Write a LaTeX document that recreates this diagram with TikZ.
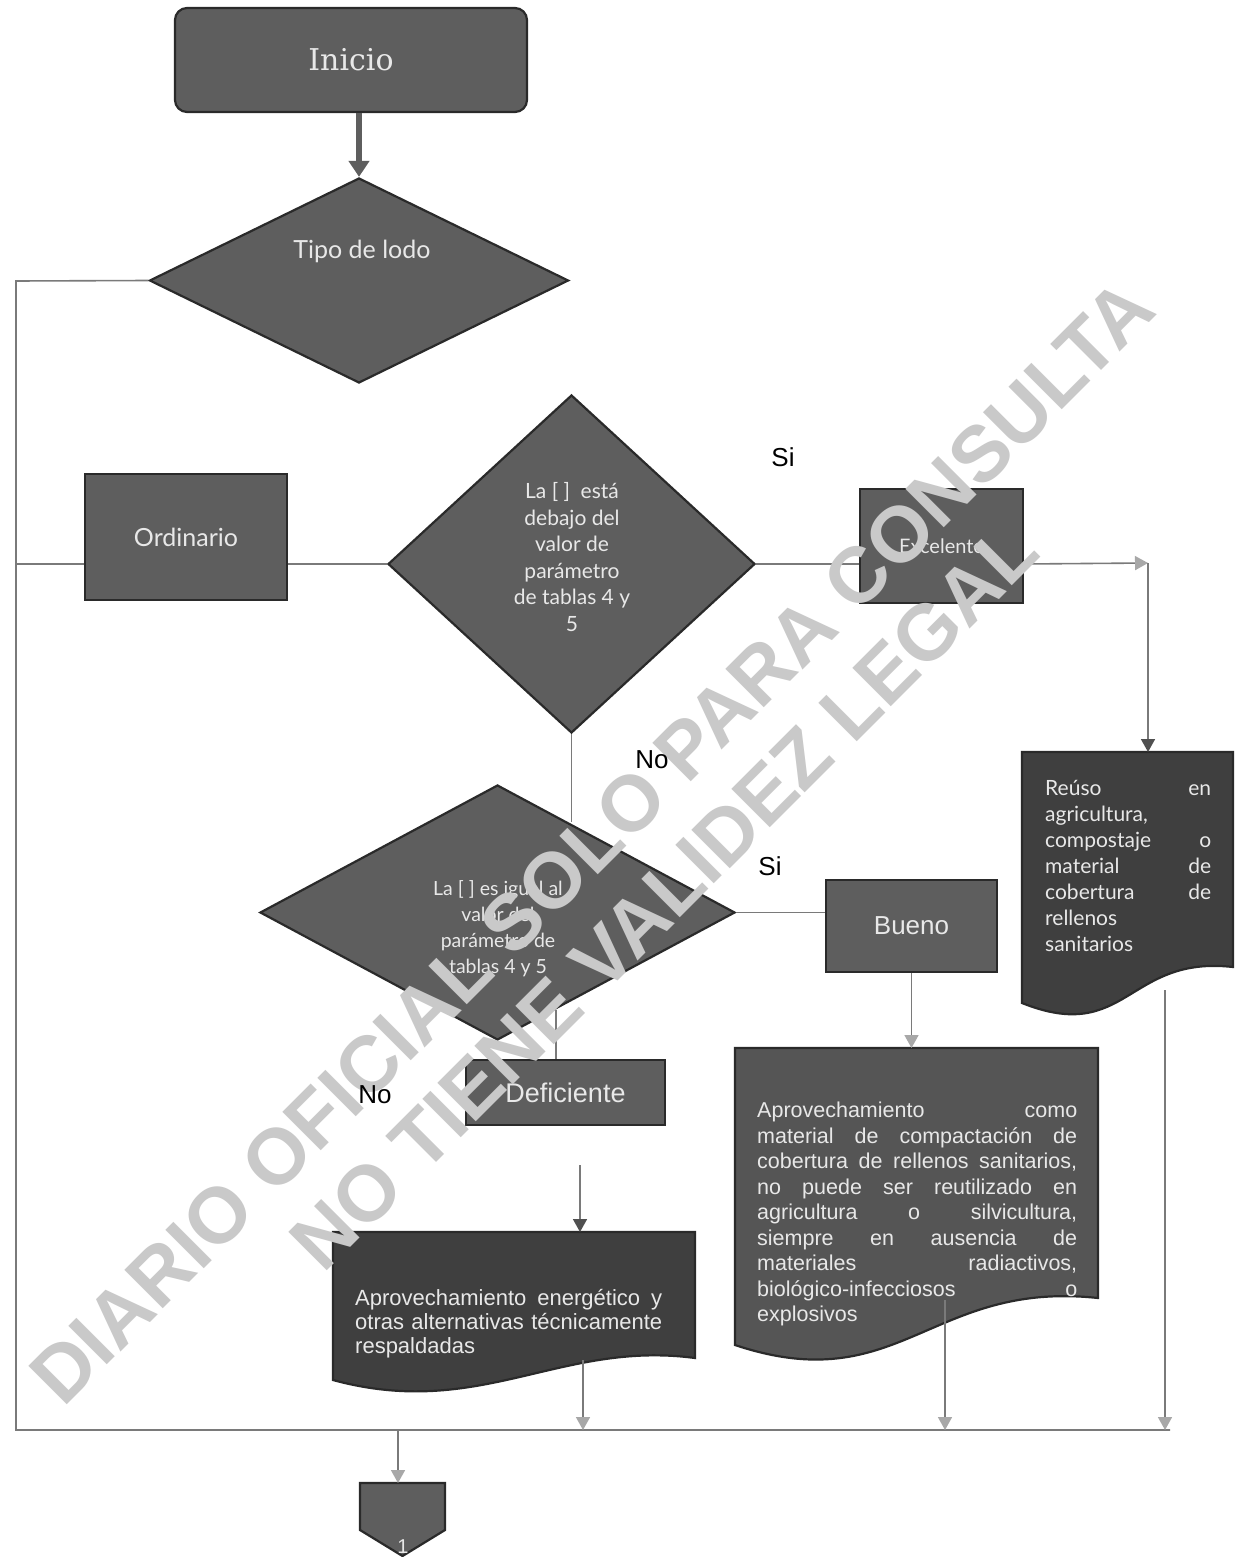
\documentclass[tikz,border=0pt]{standalone}
\usepackage{fontspec}
\setmainfont{Liberation Sans}
\newfontfamily\ral{Lato}
\newfontfamily\slab{DejaVu Serif}
\usetikzlibrary{shapes.geometric,arrows.meta,calc}
\definecolor{shp}{HTML}{5E5E5E}
\definecolor{shpdark}{HTML}{3F3F3F}
\definecolor{shpmid}{HTML}{555555}
\definecolor{edge}{HTML}{2A2A2A}
\definecolor{conn}{HTML}{7A7A7A}
\definecolor{tipl}{HTML}{A8A8A8}
\definecolor{tipd}{HTML}{505050}
\definecolor{txt}{HTML}{E8E8E8}
\definecolor{wm}{HTML}{C9C9C9}
\newcommand\jline[2]{\makebox[#1][s]{#2}}
\begin{document}
\begin{tikzpicture}[x=1pt,y=-1pt,
  box/.style={draw=edge, fill=shp, line width=2.2pt, inner sep=0pt, text=txt},
  dia/.style={box, shape=diamond},
  docshape/.style={draw=edge, line width=2.2pt},
  ghost/.style={inner sep=0pt, outer sep=0pt},
  wire/.style={draw=conn, line width=1.6pt},
  arrl/.style={wire, -{Triangle[width=14pt,length=13pt,color=tipl]}},
  arrd/.style={wire, -{Triangle[width=14pt,length=13pt,color=tipd]}},
  lbl/.style={font=\fontsize{26}{28}\selectfont, text=black},
  dtext/.style={text=txt, align=center, inner sep=0pt},
  wmark/.style={text=wm, font=\bfseries\fontsize{79}{84}\selectfont, rotate=45}
]
\fill[white] (0,0) rectangle (1237,1557);
\useasboundingbox (0,0) rectangle (1237,1557);

% ---------- nodes ----------
\node[box, rounded corners=12pt, minimum width=352pt, minimum height=104pt,
      font=\slab\fontsize{30}{32}\selectfont] (start) at (351,60) {Inicio};
\node[dia, minimum width=419pt, minimum height=205pt] (d1) at (359,280.5) {};
\node[dtext, font=\ral\fontsize{25}{28}\selectfont] (t1) at (362,251) {Tipo de lodo};

\node[box, minimum width=202pt, minimum height=126pt,
      font=\ral\fontsize{25}{28}\selectfont] (ord) at (186,537) {Ordinario};

\node[dia, minimum width=367pt, minimum height=338pt] (d2) at (571.5,564) {};
\node[dtext, font=\ral\fontsize{21}{26.6}\selectfont] (t2) at (572,557)
  {La [ ]\ \ está\\debajo del\\valor de\\parámetro\\de tablas 4 y\\5};

\node[box, minimum width=163pt, minimum height=114pt,
      font=\ral\fontsize{20}{22}\selectfont] (exc) at (941.5,546) {Excelente};

\node[dia, minimum width=475pt, minimum height=255pt] (d3) at (497.5,912.5) {};
\node[dtext, font=\ral\fontsize{19.5}{26}\selectfont] (t3) at (498,929)
  {La [ ] es igual al\\valor del\\parámetro de\\tablas 4 y 5};

\node[box, minimum width=171pt, minimum height=92pt,
      font=\fontsize{26}{28}\selectfont] (bueno) at (911.5,926) {Bueno};
\node[box, minimum width=199pt, minimum height=65pt,
      font=\fontsize{27}{29}\selectfont] (defi) at (565.5,1092.5) {Deficiente};

% documents (bounding nodes)
\node[ghost, minimum width=211pt, minimum height=251pt] (doc1) at (1127.5,877.5) {};
\node[ghost, minimum width=363pt, minimum height=297pt] (doc2) at (916.5,1196.5) {};
\node[ghost, minimum width=362pt, minimum height=148pt] (doc3) at (514,1306) {};
\node[ghost, minimum width=85pt, minimum height=73pt] (offc) at (402.5,1519.5) {};

\filldraw[docshape, fill=shpdark] (1022,752) -- (1233,752) -- (1233,967)
  .. controls (1127,955) and (1127,1045) .. (1022,1003) -- cycle;
\filldraw[docshape, fill=shpmid] (735,1048) -- (1098,1048) -- (1098,1298)
  .. controls (930,1280) and (900,1400) .. (735,1345) -- cycle;
\filldraw[docshape, fill=shpdark] (333,1232) -- (695,1232) -- (695,1358)
  .. controls (560,1340) and (480,1420) .. (333,1380) -- cycle;
\filldraw[docshape, fill=shp] (360,1483) -- (445,1483) -- (445,1530)
  -- (402.5,1556) -- (360,1530) -- cycle;

\node[dtext, anchor=north west, align=left, font=\ral\fontsize{21}{26}\selectfont] (x1) at (1045,780)
  {\jline{166pt}{Reúso en}\\agricultura,\\\jline{166pt}{compostaje o}\\\jline{166pt}{material de}\\\jline{166pt}{cobertura de}\\rellenos\\sanitarios};
\node[dtext, anchor=north west, align=left, font=\fontsize{21.5}{25.5}\selectfont] (x2) at (757,1102)
  {\jline{320pt}{Aprovechamiento como}\\\jline{320pt}{material de compactación de}\\\jline{320pt}{cobertura de rellenos sanitarios,}\\\jline{320pt}{no puede ser reutilizado en}\\\jline{320pt}{agricultura o silvicultura,}\\\jline{320pt}{siempre en ausencia de}\\\jline{320pt}{materiales radiactivos,}\\\jline{320pt}{biológico-infecciosos o}\\explosivos};
\node[dtext, anchor=north west, align=left, font=\fontsize{22}{24}\selectfont] (x3) at (355,1289)
  {\jline{307pt}{Aprovechamiento energético y}\\\jline{307pt}{otras alternativas técnicamente}\\respaldadas};
\node[dtext, anchor=north, font=\fontsize{20}{22}\selectfont] (one) at (403,1540) {1};

% ---------- connectors ----------
\coordinate (lt) at (16,281);
\coordinate (bl) at (16,1430);
\coordinate (br) at (1170,1430);
\coordinate (xc) at (1148,563);
\coordinate (a3) at (580,1165);
\coordinate (o1) at (1165,990);
\coordinate (o2) at (945,1300);
\coordinate (o3) at (583,1360);
\coordinate (cb) at (398,1430);
\path (d3.north) -- (d3.east) coordinate[pos=0.3] (j3);
\path (d3.south) -- (d3.east) coordinate[pos=0.245] (j4);

\draw[draw=shp, line width=6pt, -{Triangle[width=20pt,length=16pt]}] (d1.north |- start.south) -- (d1.north);
\draw[wire] (d1.west) -- (lt) -- (bl) -- (br);
\draw[wire] (ord.west |- d2.west) -- (lt |- d2.west);
\draw[wire] (ord.east |- d2.west) -- (d2.west);
\draw[wire] (d2.east) -- (exc.west |- d2.east);
\draw[arrl] (exc.east |- d2.east) -- (xc);
\draw[arrd] (xc) -- (xc |- doc1.north);
\draw[wire] (d2.south) -- (d2.south |- j3);
\draw[wire] (d3.east) -- (bueno.west |- d3.east);
\draw[arrl] (bueno.south) -- (bueno.south |- doc2.north);
\draw[wire] (j4) -- (j4 |- defi.north);
\draw[arrd] (a3) -- (a3 |- doc3.north);
\draw[arrl] (o1) -- (o1 |- bl);
\draw[arrl] (o2) -- (o2 |- bl);
\draw[arrl] (o3) -- (o3 |- bl);
\draw[arrl] (cb) -- (cb |- offc.north);

% ---------- watermark ----------
\node[wmark] (wm1) at (592,842) {DIARIO OFICIAL SOLO PARA CONSULTA};
\node[wmark] (wm2) at (664,896) {NO TIENE VALIDEZ LEGAL};

% labels
\node[lbl] (si1) at (783,457) {Si};
\node[lbl] (no1) at (652,760) {No};
\node[lbl] (si2) at (770,866) {Si};
\node[lbl] (no2) at (375,1095) {No};
\end{tikzpicture}
\end{document}
